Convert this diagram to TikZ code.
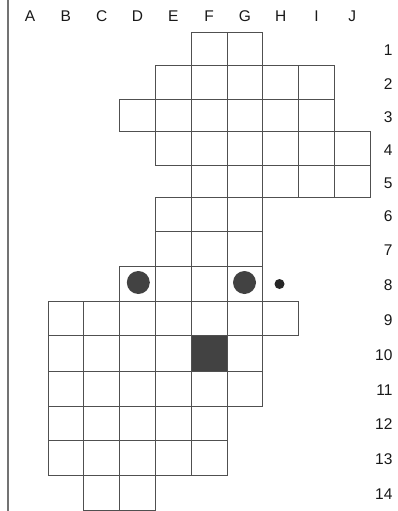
\documentclass[tikz,border=0pt]{standalone}
\usepackage{fontspec}
\setmainfont{Liberation Sans}
\usepackage{xcolor}
\usepackage{tikz}
\usetikzlibrary{positioning}
\definecolor{gridgray}{RGB}{80,80,80}
\definecolor{markgray}{RGB}{66,66,66}
\definecolor{labelgray}{RGB}{25,25,25}
\tikzset{
  cellbox/.style={draw=gridgray,line width=.9pt},
  frameline/.style={draw=gridgray!80,line width=1.2pt},
  bigdot/.style={circle,fill=markgray,inner sep=0pt,minimum size=23pt},
  smalldot/.style={circle,fill=black!85,inner sep=0pt,minimum size=10pt}
}

\begin{document}
\begin{tikzpicture}[
  x=1pt,y=-1pt,
  collabel/.style={font=\fontsize{15.5}{15.5}\selectfont,text=labelgray},
  rowlabel/.style={font=\fontsize{15.5}{15.5}\selectfont,text=labelgray,anchor=east}
]
  \useasboundingbox (0,0) rectangle (398,511);

  % grid geometry: column width, left edge of column A, row boundaries
  \def\colw{35.8}
  \def\xoff{12.2}
  \def\rowtops{{32.5,65.7,99,131.7,165,197.7,231.7,266,301.5,335.5,371,406,440,475,510}}

  \coordinate (frameTop) at (8,0);
  \coordinate (frameBot) at (8,511);
  \draw[frameline] (frameTop)--(frameBot);

  % row / first column / last column  (A=1 ... J=10)
  \foreach \r/\a/\b in {1/6/7,2/5/9,3/4/9,4/5/10,5/6/10,6/5/7,7/5/7,
                        8/4/7,9/2/8,10/2/7,11/2/7,12/2/6,13/2/6,14/3/4}{
    \pgfmathsetmacro\yt{\rowtops[\r-1]}
    \pgfmathsetmacro\yb{\rowtops[\r]}
    \foreach \c in {\a,...,\b}{
      \draw[cellbox] ({\xoff+\colw*(\c-1)},\yt) rectangle ({\xoff+\colw*\c},\yb);
    }
  }

  \pgfmathsetmacro\ft{\rowtops[9]}
  \pgfmathsetmacro\fb{\rowtops[10]}
  \draw[cellbox,fill=markgray] ({\xoff+\colw*5},\ft) rectangle ({\xoff+\colw*6},\fb);

  \node[bigdot] (dotD) at (138.3,282.5) {};
  \node[bigdot] (dotG) at (244.5,282.5) {};
  \node[smalldot] (dotH) at (279.5,284) {};

  \foreach \l [count=\i] in {A,B,C,D,E,F,G,H,I,J}{
    \node[collabel] (col\l) at ({\xoff+\colw*(\i-0.5)},16) {\l};
  }

  \foreach \r in {1,...,14}{
    \pgfmathsetmacro\yt{\rowtops[\r-1]}
    \pgfmathsetmacro\yb{\rowtops[\r]}
    \pgfmathsetmacro\ym{(\yt+\yb)/2+1.5}
    \node[rowlabel] (row\r) at (396,\ym) {\r};
  }

\end{tikzpicture}
\end{document}
